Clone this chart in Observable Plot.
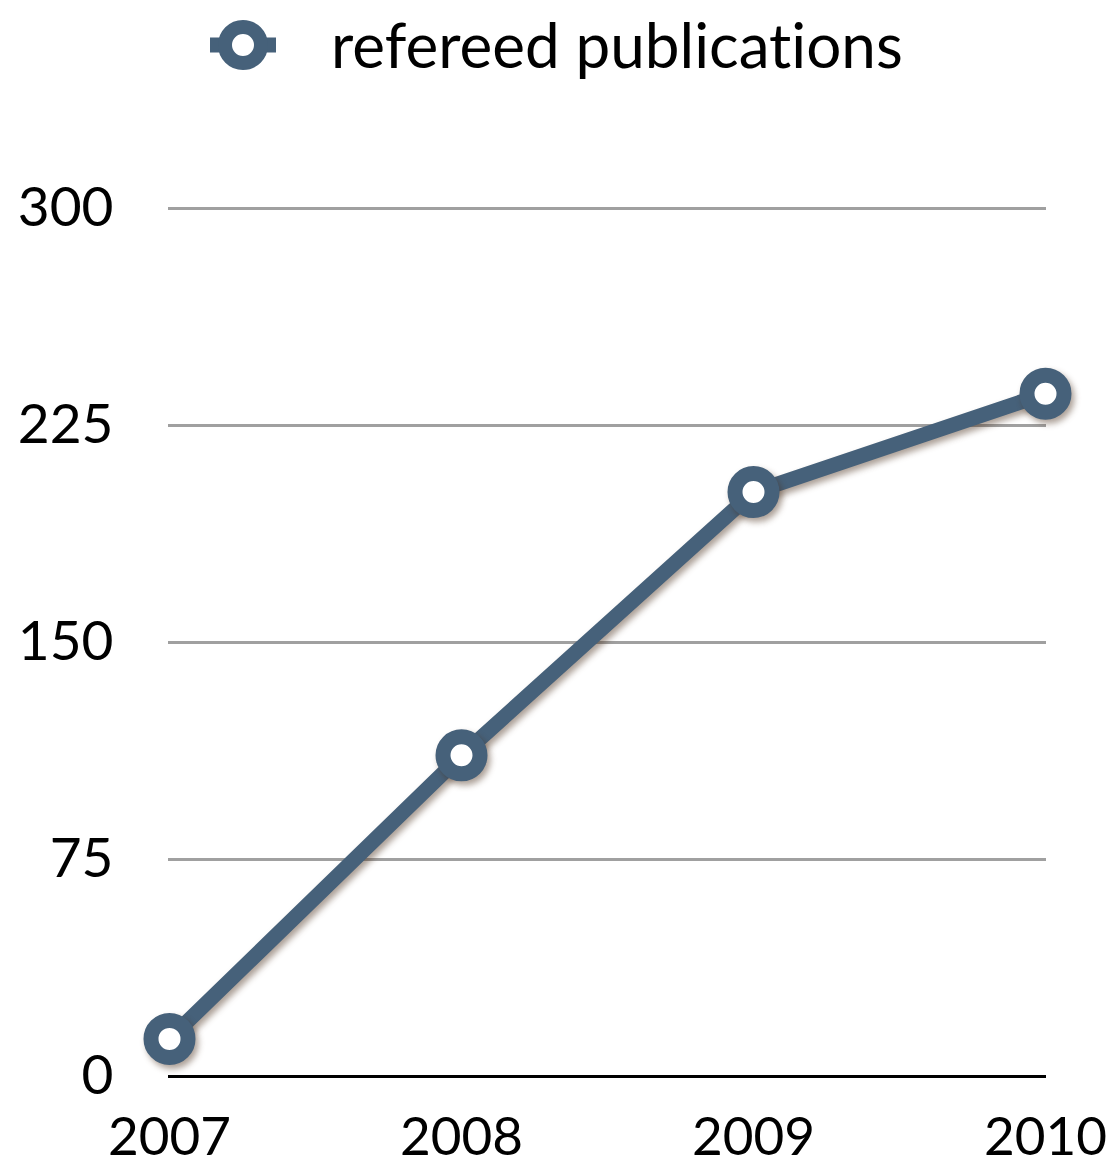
<!DOCTYPE html>
<html>
<head>
<meta charset="utf-8">
<script src="https://cdn.jsdelivr.net/npm/d3@7"></script>
<script src="https://cdn.jsdelivr.net/npm/@observablehq/plot@0.6"></script>
<style>
  html, body { margin: 0; padding: 0; background: #fff; }
  body { width: 1116px; height: 1170px; overflow: hidden; font-family: Lato, "Open Sans", sans-serif; font-variant-ligatures: none; }
  #legend { position: relative; height: 100px; width: 1116px; }
  #legend svg { position: absolute; left: 200px; top: 8px; }
  #legend span { position: absolute; left: 331px; top: 13px; font-size: 62px; line-height: 1; color: #000; white-space: nowrap; font-variant-ligatures: none; }
  svg text { font-variant-ligatures: none; }
</style>
</head>
<body>
<div id="legend"></div>
<div id="chart"></div>
<script>
const years = ["2007", "2008", "2009", "2010"];
const publications = [13, 111, 202, 236];
const yTicks = [0, 75, 150, 225, 300];
const gridTicks = [75, 150, 225, 300];
const seriesName = "refereed publications";
const lineColor = "#46617a";

const data = years.map((y, i) => ({year: y, value: publications[i]}));

// Legend
const legend = document.getElementById("legend");
legend.innerHTML = `<svg width="90" height="80" viewBox="0 0 90 80">
  <line x1="10" y1="37" x2="76" y2="37" stroke="${lineColor}" stroke-width="15"/>
  <circle cx="43" cy="37" r="18" fill="#fff" stroke="${lineColor}" stroke-width="14"/>
</svg><span>${seriesName}</span>`;

const chart = Plot.plot({
  width: 1116,
  height: 1070,
  marginTop: 108,
  marginBottom: 94,
  marginLeft: 168,
  marginRight: 70,
  style: {fontFamily: "Lato, 'Open Sans', sans-serif", color: "#000", background: "#fff"},
  x: {type: "point", domain: years, padding: 0},
  y: {domain: [0, 300]},
  marks: [
    Plot.ruleY(gridTicks, {stroke: "#a0a0a0", strokeWidth: 3}),
    Plot.ruleY([0], {stroke: "#000", strokeWidth: 3}),
    Plot.axisY(yTicks, {tickSize: 0, tickPadding: 55, fontSize: 55, label: null}),
    Plot.axisX(years, {tickSize: 0, tickPadding: 41, fontSize: 53, label: null}),
    Plot.line(data, {x: "year", y: "value", stroke: lineColor, strokeWidth: 15, className: "series-line"}),
    Plot.dot(data, {x: "year", y: "value", r: 18.5, fill: "#fff", stroke: lineColor, strokeWidth: 15, className: "series-dot"})
  ]
});
document.getElementById("chart").appendChild(chart);
chart.querySelectorAll(".series-line, .series-dot").forEach(g => {
  g.style.filter = "drop-shadow(3px 4px 3px rgba(70,45,25,0.45))";
});
</script>
</body>
</html>
